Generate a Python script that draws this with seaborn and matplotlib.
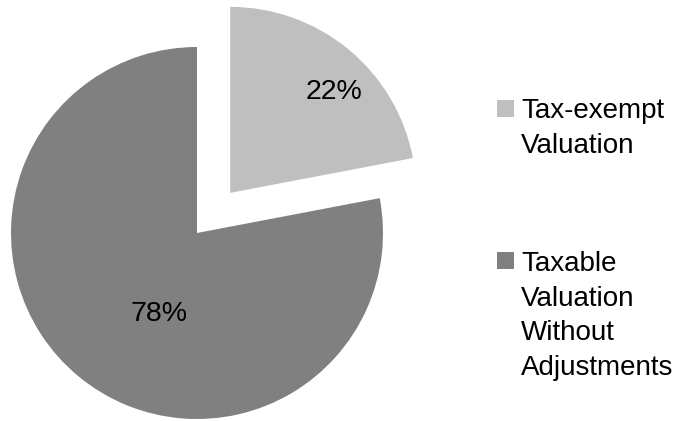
import matplotlib
matplotlib.use("Agg")
import matplotlib.pyplot as plt
import seaborn as sns
from matplotlib.patches import Rectangle

# Share of total valuation
categories = ["Tax-exempt\nValuation", "Taxable\nValuation\nWithout\nAdjustments"]
shares = [22, 78]
colors = ["#bfbfbf", "#808080"]
explode = [0.28, 0.0]

sns.set_theme(style="white")
plt.rcParams["font.family"] = ["Liberation Sans", "DejaVu Sans"]

W, H = 685, 421
fig = plt.figure(figsize=(W / 100, H / 100), dpi=100)
ax = fig.add_axes([0, 0, 1, 1])

wedges, texts, autotexts = ax.pie(
    shares,
    colors=colors,
    startangle=90,
    counterclock=False,
    explode=explode,
    autopct=lambda p: f"{round(p)}%",
    textprops=dict(fontsize=20.5, color="black"),
    wedgeprops=dict(linewidth=0),
)

# percentage label placement (data units, radius = 1), anchored on baseline
label_pos = [(0.7366, 0.7188), (-0.206, -0.4715)]
for t, pos in zip(autotexts, label_pos):
    t.set_verticalalignment("baseline")
    t.set_position(pos)

# pie centre at (197, 233) px, radius 186 px
cx, cy, r = 197, 233, 186
ax.set_xlim(-cx / r, (W - cx) / r)
ax.set_ylim(-(H - cy) / r, cy / r)
ax.set_aspect("auto")
ax.axis("off")

# legend: square marker next to the first line of each label
legend_rows = [(100, 118.5), (251.5, 271)]  # (square top px, first baseline px)
line_step = 34.6
for (sq_top, base), label, color in zip(legend_rows, categories, colors):
    fig.patches.append(Rectangle((497 / W, 1 - (sq_top + 17) / H), 17 / W, 17 / H,
                                 transform=fig.transFigure, facecolor=color,
                                 edgecolor="none"))
    for i, line in enumerate(label.split("\n")):
        fig.text(521 / W, 1 - (base + i * line_step) / H, line, fontsize=20,
                 color="black", ha="left", va="baseline")

fig.savefig("out.png", dpi=100, facecolor="white")
